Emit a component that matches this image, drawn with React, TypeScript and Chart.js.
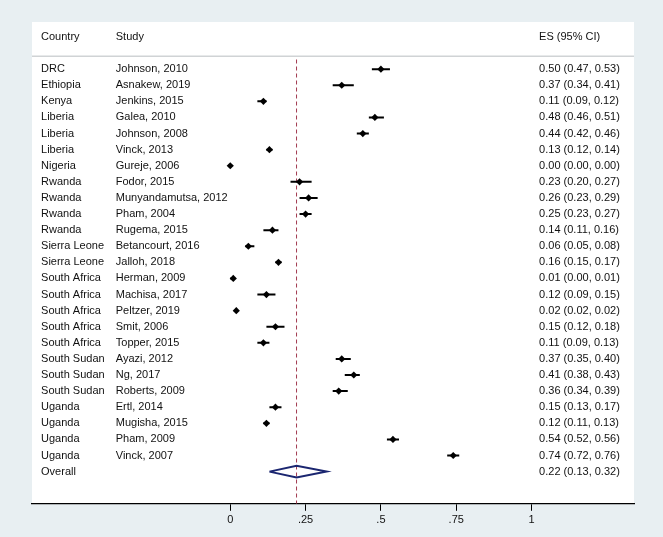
import React, { useEffect, useRef } from "react";
import { Chart, registerables } from "chart.js";

Chart.register(...registerables);

// ---------- data ----------
const countries = [
  "DRC", "Ethiopia", "Kenya", "Liberia", "Liberia", "Liberia", "Nigeria",
  "Rwanda", "Rwanda", "Rwanda", "Rwanda", "Sierra Leone", "Sierra Leone",
  "South Africa", "South Africa", "South Africa", "South Africa", "South Africa",
  "South Sudan", "South Sudan", "South Sudan", "Uganda", "Uganda", "Uganda", "Uganda",
];
const studies = [
  "Johnson, 2010", "Asnakew, 2019", "Jenkins, 2015", "Galea, 2010", "Johnson, 2008",
  "Vinck, 2013", "Gureje, 2006", "Fodor, 2015", "Munyandamutsa, 2012", "Pham, 2004",
  "Rugema, 2015", "Betancourt, 2016", "Jalloh, 2018", "Herman, 2009", "Machisa, 2017",
  "Peltzer, 2019", "Smit, 2006", "Topper, 2015", "Ayazi, 2012", "Ng, 2017",
  "Roberts, 2009", "Ertl, 2014", "Mugisha, 2015", "Pham, 2009", "Vinck, 2007",
];
const esValues = [
  0.50, 0.37, 0.11, 0.48, 0.44, 0.13, 0.00, 0.23, 0.26, 0.25, 0.14, 0.06, 0.16,
  0.01, 0.12, 0.02, 0.15, 0.11, 0.37, 0.41, 0.36, 0.15, 0.12, 0.54, 0.74,
];
const ciLower = [
  0.47, 0.34, 0.09, 0.46, 0.42, 0.12, 0.00, 0.20, 0.23, 0.23, 0.11, 0.05, 0.15,
  0.00, 0.09, 0.02, 0.12, 0.09, 0.35, 0.38, 0.34, 0.13, 0.11, 0.52, 0.72,
];
const ciUpper = [
  0.53, 0.41, 0.12, 0.51, 0.46, 0.14, 0.00, 0.27, 0.29, 0.27, 0.16, 0.08, 0.17,
  0.01, 0.15, 0.02, 0.18, 0.13, 0.40, 0.43, 0.39, 0.17, 0.13, 0.56, 0.76,
];
const overallLabel = "Overall";
const overallES = 0.22;
const overallLo = 0.13;
const overallHi = 0.32;

const headerCountry = "Country";
const headerStudy = "Study";
const headerES = "ES (95% CI)";

const tickValues = [0, 0.25, 0.5, 0.75, 1];
const tickLabels = ["0", ".25", ".5", ".75", "1"];

// ---------- layout / style ----------
const W = 663;
const H = 537;
const FONT = "11px 'Liberation Sans', Arial, Helvetica, sans-serif";
const BG = "#e8eff2";
const X_MIN = -0.658;
const X_MAX = 1.34;
const Y_MIN = -2.93;
const Y_MAX = 27.0;
const COL_COUNTRY = -0.628;
const COL_STUDY = -0.38;
const COL_ES = 1.025;
const HEADER_ROW = -2;
const SEP_ROW = -0.8;

const fmt = (v: number) => v.toFixed(2);

const forestPlugin = {
  id: "forestText",
  beforeDraw(chart: any) {
    const { ctx, chartArea, scales } = chart;
    const x = scales.x;
    const y = scales.y;
    ctx.save();
    ctx.fillStyle = BG;
    ctx.fillRect(0, 0, chart.width, chart.height);
    ctx.fillStyle = "#ffffff";
    ctx.fillRect(chartArea.left, chartArea.top, chartArea.right - chartArea.left, chartArea.bottom - chartArea.top);
    // separator
    const sy = y.getPixelForValue(SEP_ROW);
    ctx.strokeStyle = "#d0d3d5";
    ctx.lineWidth = 1.5;
    ctx.beginPath();
    ctx.moveTo(chartArea.left, sy);
    ctx.lineTo(chartArea.right, sy);
    ctx.stroke();
    ctx.restore();
  },
  afterDatasetsDraw(chart: any) {
    const { ctx, scales } = chart;
    const x = scales.x;
    const y = scales.y;
    ctx.save();
    ctx.font = FONT;
    ctx.fillStyle = "#111111";
    ctx.textBaseline = "middle";
    ctx.textAlign = "left";
    const cx = x.getPixelForValue(COL_COUNTRY);
    const stx = x.getPixelForValue(COL_STUDY);
    const ex = x.getPixelForValue(COL_ES);
    const hy = y.getPixelForValue(HEADER_ROW);
    ctx.fillText(headerCountry, cx, hy);
    ctx.fillText(headerStudy, stx, hy);
    ctx.fillText(headerES, ex, hy);
    studies.forEach((s, i) => {
      const py = y.getPixelForValue(i);
      ctx.fillText(countries[i], cx, py);
      ctx.fillText(s, stx, py);
      ctx.fillText(`${fmt(esValues[i])} (${fmt(ciLower[i])}, ${fmt(ciUpper[i])})`, ex, py);
    });
    const oy = y.getPixelForValue(studies.length);
    ctx.fillText(overallLabel, cx, oy);
    ctx.fillText(`${fmt(overallES)} (${fmt(overallLo)}, ${fmt(overallHi)})`, ex, oy);
    ctx.restore();
  },
};

export default function App() {
  const ref = useRef<HTMLCanvasElement | null>(null);

  useEffect(() => {
    if (!ref.current) return;
    const n = studies.length;
    const ciData: any[] = [];
    studies.forEach((_, i) => {
      ciData.push({ x: ciLower[i], y: i });
      ciData.push({ x: ciUpper[i], y: i });
      ciData.push({ x: null, y: null });
    });
    const pointData = esValues.map((v, i) => ({ x: v, y: i }));
    const dh = 0.37;
    const diamondData = [
      { x: overallLo, y: n },
      { x: overallES, y: n - dh },
      { x: overallHi, y: n },
      { x: overallES, y: n + dh },
      { x: overallLo, y: n },
    ];
    const refData = [
      { x: overallES, y: -0.6 },
      { x: overallES, y: Y_MAX },
    ];

    const chart = new Chart(ref.current, {
      type: "scatter",
      data: {
        datasets: [
          {
            label: "ES",
            data: pointData,
            pointStyle: "rectRot",
            pointRadius: 3.6,
            pointBackgroundColor: "#000000",
            pointBorderWidth: 0,
            showLine: false,
            order: 0,
          } as any,
          {
            label: "CI",
            data: ciData,
            showLine: true,
            spanGaps: false,
            borderColor: "#000000",
            borderWidth: 2,
            pointRadius: 0,
            borderCapStyle: "butt",
            order: 1,
          } as any,
          {
            label: "Overall",
            data: diamondData,
            showLine: true,
            borderColor: "#1b2670",
            borderWidth: 2,
            pointRadius: 0,
            fill: false,
            borderJoinStyle: "miter",
            order: 2,
          } as any,
          {
            label: "ref",
            data: refData,
            showLine: true,
            borderColor: "#a23a50",
            borderWidth: 1,
            borderDash: [4, 3],
            pointRadius: 0,
            order: 3,
          } as any,
        ],
      },
      options: {
        animation: false,
        responsive: false,
        devicePixelRatio: 1,
        events: [],
        layout: { padding: { left: 32, right: 29, top: 22, bottom: 7 } },
        plugins: {
          legend: { display: false },
          tooltip: { enabled: false },
        },
        scales: {
          x: {
            type: "linear",
            min: X_MIN,
            max: X_MAX,
            afterBuildTicks: (scale: any) => {
              scale.ticks = tickValues.map((v) => ({ value: v }));
            },
            ticks: {
              autoSkip: false,
              maxRotation: 0,
              padding: 3,
              color: "#111111",
              font: { family: "'Liberation Sans', Arial, Helvetica, sans-serif", size: 11 },
              callback: (_v: any, idx: number) => tickLabels[idx],
            },
            grid: {
              display: true,
              drawOnChartArea: false,
              drawTicks: true,
              tickLength: 7,
              color: "#000000",
              lineWidth: 1,
            },
            border: { display: true, color: "#000000", width: 1.3 },
          },
          y: {
            type: "linear",
            display: false,
            reverse: true,
            min: Y_MIN,
            max: Y_MAX,
          },
        },
      },
      plugins: [forestPlugin],
    } as any);
    return () => chart.destroy();
  }, []);

  return (
    <div style={{ position: "fixed", left: 0, top: 0, width: W, height: H }}>
      <canvas ref={ref} width={W} height={H} style={{ width: W, height: H, display: "block" }} />
    </div>
  );
}
